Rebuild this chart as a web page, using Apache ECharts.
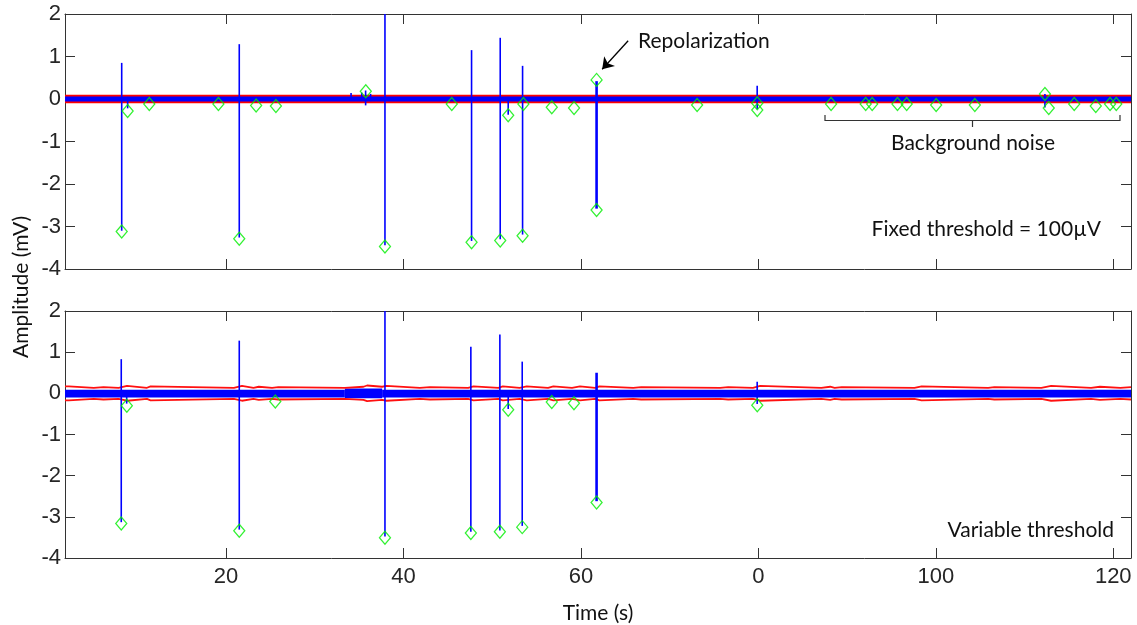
<!DOCTYPE html>
<html><head><meta charset="utf-8">
<script src="https://cdn.jsdelivr.net/npm/echarts@6/dist/echarts.min.js"></script>
<style>html,body{margin:0;padding:0;background:#fff}#c{width:1137px;height:625px}</style>
</head><body><div id="c"></div>
<script>
// ---- data ----
const X_MIN = 1.86, X_MAX = 122.0;
const xTickValues = [20, 40, 60, 80, 100, 120];
const xTickLabels = ['20', '40', '60', '0', '100', '120'];
const FIXED_THRESHOLD = 0.08;          // drawn level of the ±100µV lines
const REPOL_TIME = 61.77;

// noise band segments: [tStart, tEnd, low, high]
const topNoise = [[1.86, 122.0, -0.07, 0.075]];
const botNoise = [[1.86, 33.4, -0.10, 0.09], [33.4, 37.6, -0.12, 0.115], [37.6, 122.0, -0.10, 0.09]];

// spikes: [t, high, low]
const topSpikes = [
  [8.25, 0.85, -3.10], [8.92, 0.05, -0.22], [21.5, 1.29, -3.26], [34.1, 0.14, 0], [35.3, 0.15, 0],
  [35.74, 0.20, -0.15], [36.3, 0.12, -0.05], [37.92, 2.0, -3.44], [47.68, 1.15, -3.34],
  [50.91, 1.44, -3.30], [51.81, 0.05, -0.37], [53.43, 0.78, -3.19], [61.77, 0.42, -2.58],
  [79.87, 0.31, -0.24], [112.3, 0.12, -0.20]
];
const botSpikes = [
  [8.2, 0.83, -3.13], [8.81, 0.0, -0.25], [21.5, 1.28, -3.31], [37.92, 2.0, -3.48], [47.6, 1.13, -3.36],
  [50.87, 1.43, -3.33], [51.81, 0.0, -0.38], [53.39, 0.77, -3.22], [61.77, 0.50, -2.62], [79.87, 0.28, -0.26]
];

// detected events (green diamonds): [t, amplitude]
const topMarkers = [
  [8.25, -3.12], [8.92, -0.28], [11.36, -0.12], [19.15, -0.12], [21.5, -3.29], [23.4, -0.155], [25.63, -0.165],
  [35.76, 0.18], [37.92, -3.47], [45.45, -0.12], [47.68, -3.37], [50.91, -3.33], [51.81, -0.38], [53.43, -3.22],
  [53.52, -0.12], [56.72, -0.195], [59.23, -0.21], [61.77, 0.45], [61.77, -2.61], [73.1, -0.14],
  [79.88, -0.10], [79.88, -0.26], [88.2, -0.12], [92.1, -0.12], [92.83, -0.12], [95.68, -0.12],
  [96.72, -0.12], [100.04, -0.14], [104.4, -0.14], [112.3, 0.12], [112.73, -0.21], [115.6, -0.12],
  [118.03, -0.165], [119.64, -0.12], [120.34, -0.12]
];
const botMarkers = [
  [8.2, -3.16], [8.83, -0.30], [21.5, -3.34], [25.56, -0.20], [37.92, -3.51], [47.6, -3.39], [50.87, -3.36],
  [51.81, -0.40], [53.39, -3.25], [56.72, -0.21], [59.22, -0.24], [61.77, -2.65], [79.88, -0.29]
];

// variable threshold (step levels): [tStart, level]
const varThreshold = [
  [1.86, 0.17], [2.3, 0.135], [5.1, 0.15], [6.2, 0.135], [7.9, 0.18], [8.85, 0.135], [11.1, 0.17], [11.5, 0.135],
  [20.9, 0.18], [21.8, 0.135], [23.1, 0.16], [23.7, 0.135], [25.2, 0.15], [25.9, 0.135], [33.4, 0.16],
  [35.5, 0.19], [35.9, 0.16], [37.6, 0.18], [38.1, 0.135], [41.86, 0.15], [43.0, 0.135], [47.3, 0.17],
  [47.9, 0.135], [50.7, 0.17], [51.2, 0.135], [53.1, 0.17], [53.9, 0.135], [56.3, 0.17], [56.9, 0.135],
  [59.0, 0.17], [59.9, 0.135], [61.6, 0.17], [62.1, 0.135], [65.9, 0.15], [66.8, 0.135], [75.7, 0.15],
  [76.6, 0.135], [79.4, 0.18], [80.2, 0.135], [87.1, 0.16], [88.1, 0.135], [88.6, 0.15], [89.4, 0.135],
  [97.6, 0.17], [98.4, 0.135], [105.9, 0.15], [106.6, 0.135], [111.9, 0.18], [113.0, 0.135], [117.5, 0.16],
  [118.5, 0.135], [120.8, 0.15], [122.0, 0.15]
];

// ---- chart ----
const AX = '#333333';
const LBL = '#262626';
const CAL = 'Lato, "Open Sans", sans-serif';
const chart = echarts.init(document.getElementById('c'), null, {renderer: 'canvas'});

function xAx(grid, pos, labels) {
  const a = {
    gridIndex: grid, type: 'value', min: X_MIN, max: X_MAX, position: pos,
    axisLine: {show: true, onZero: false, lineStyle: {color: AX, width: 1}},
    axisTick: {show: true, inside: true, length: 10, customValues: xTickValues, lineStyle: {color: AX, width: 1}},
    axisLabel: {show: false}, splitLine: {show: false}
  };
  if (labels) {
    a.axisLabel = {show: true, customValues: xTickValues, formatter: v => xTickLabels[xTickValues.indexOf(v)],
      fontSize: 22, color: LBL, fontFamily: '"Liberation Sans", Arial, sans-serif', margin: 8};
    a.name = 'Time (s)'; a.nameLocation = 'middle'; a.nameGap = 45;
    a.nameTextStyle = {fontSize: 21, color: '#111', fontFamily: CAL};
  }
  return a;
}
function yAx(grid, pos, labels) {
  return {
    gridIndex: grid, type: 'value', min: -4, max: 2, interval: 1, position: pos,
    axisLine: {show: true, onZero: false, lineStyle: {color: AX, width: 1}},
    axisTick: {show: true, inside: true, length: 10, lineStyle: {color: AX, width: 1}},
    axisLabel: {show: labels, fontSize: 22, color: LBL, fontFamily: '"Liberation Sans", Arial, sans-serif', margin: 4},
    splitLine: {show: false}
  };
}

function bandItem(params, api) {
  const p0 = api.coord([api.value(0), api.value(3)]);
  const p1 = api.coord([api.value(1), api.value(2)]);
  return {type: 'rect', shape: {x: p0[0], y: p0[1], width: p1[0] - p0[0], height: p1[1] - p0[1]},
    style: {fill: '#0000ff'}};
}
function spikeItem(params, api) {
  const t = api.value(0);
  const a = api.coord([t, api.value(1)]);
  const b = api.coord([t, api.value(2)]);
  return {type: 'line', shape: {x1: a[0], y1: a[1], x2: b[0], y2: b[1]},
    style: {stroke: '#0000ff', lineWidth: Math.abs(t - REPOL_TIME) < 0.01 ? 2.6 : 1.6}};
}

function panelSeries(xi, yi, noise, spikes, markers) {
  return [
    {type: 'custom', xAxisIndex: xi, yAxisIndex: yi, renderItem: bandItem, data: noise,
      encode: {x: [0, 1], y: [2, 3]}, z: 2, clip: true, silent: true},
    {type: 'custom', xAxisIndex: xi, yAxisIndex: yi, renderItem: spikeItem, data: spikes,
      encode: {x: 0, y: [1, 2]}, z: 5, clip: true, silent: true},
    {type: 'scatter', xAxisIndex: xi, yAxisIndex: yi, data: markers, symbol: 'diamond', symbolSize: [11, 13],
      itemStyle: {color: 'rgba(0,0,0,0)', borderColor: '#00ee00', borderWidth: 1.3}, z: 6, silent: true}
  ];
}

const upperVar = varThreshold.map(d => [d[0], d[1]]);
const lowerVar = varThreshold.map(d => [d[0], -d[1]]);

const series = [].concat(
  panelSeries(0, 0, topNoise, topSpikes, topMarkers),
  panelSeries(2, 2, botNoise, botSpikes, botMarkers),
  [
    {type: 'line', xAxisIndex: 0, yAxisIndex: 0, data: [[X_MIN, FIXED_THRESHOLD], [X_MAX, FIXED_THRESHOLD]],
      showSymbol: false, lineStyle: {color: '#ff0000', width: 1.8}, z: 3, silent: true,
      markLine: {silent: true, symbol: ['none', 'arrow'], symbolSize: 11, animation: false,
        lineStyle: {color: '#000', width: 1.3, type: 'solid'}, label: {show: false},
        data: [[{coord: [65.33, 1.37]}, {coord: [62.4, 0.70]}]]}},
    {type: 'line', xAxisIndex: 0, yAxisIndex: 0, data: [[X_MIN, -FIXED_THRESHOLD], [X_MAX, -FIXED_THRESHOLD]],
      showSymbol: false, lineStyle: {color: '#ff0000', width: 1.8}, z: 3, silent: true},
    {type: 'line', xAxisIndex: 2, yAxisIndex: 2, data: upperVar, step: 'end', showSymbol: false,
      lineStyle: {color: '#ff1010', width: 1.8}, z: 3, silent: true},
    {type: 'line', xAxisIndex: 2, yAxisIndex: 2, data: lowerVar, step: 'end', showSymbol: false,
      lineStyle: {color: '#ff1010', width: 1.8}, z: 3, silent: true}
  ]
);

const txt = (x, y, s, align, extra) => Object.assign({type: 'text', x: x, y: y, silent: true, z: 100,
  style: {text: s, font: '21px ' + CAL, fill: '#111', textAlign: align, textVerticalAlign: 'middle'}}, extra || {});

chart.setOption({
  animation: false,
  backgroundColor: '#fff',
  grid: [
    {left: 65, top: 14, width: 1066, height: 255, containLabel: false},
    {left: 65, top: 311, width: 1066, height: 256, containLabel: false}
  ],
  xAxis: [xAx(0, 'bottom', false), xAx(0, 'top', false), xAx(1, 'bottom', true), xAx(1, 'top', false)],
  yAxis: [yAx(0, 'left', true), yAx(0, 'right', false), yAx(1, 'left', true), yAx(1, 'right', false)],
  series: series,
  graphic: [
    txt(638, 41, 'Repolarization', 'left'),
    {type: 'polyline', silent: true, z: 100, shape: {points: [[825, 115], [825, 120.5], [1120, 120.5], [1120, 115]]},
      style: {stroke: '#333', lineWidth: 1.2, fill: null}},
    {type: 'line', silent: true, z: 100, shape: {x1: 972.5, y1: 120.5, x2: 972.5, y2: 127}, style: {stroke: '#333', lineWidth: 1.2}},
    txt(973, 143, 'Background noise', 'center'),
    txt(1101, 229, 'Fixed threshold = 100µV', 'right'),
    txt(1114, 530, 'Variable threshold', 'right'),
    {type: 'text', silent: true, z: 100, x: 21, y: 287, rotation: Math.PI / 2,
      style: {text: 'Amplitude (mV)', font: '21px ' + CAL, fill: '#111', textAlign: 'center', textVerticalAlign: 'middle'}}
  ]
});
</script></body></html>
